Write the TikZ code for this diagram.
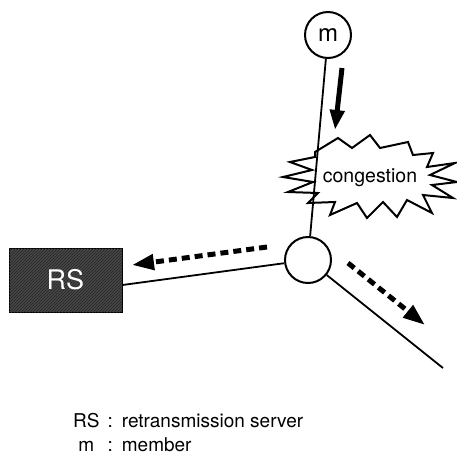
\documentclass[tikz,border=0pt]{standalone}
\usepackage{fontspec}
\setmainfont{TeX Gyre Heros}
\usetikzlibrary{arrows.meta,calc,patterns}
\begin{document}
\begin{tikzpicture}[x=1pt,y=-1pt,
  link/.style={line width=1.8pt},
  router/.style={circle,draw,line width=2pt,inner sep=0pt,minimum size=46pt},
  flow/.style={line width=5pt,-{Triangle[length=20pt,width=14pt]}},
  dflow/.style={line width=5pt,dash pattern=on 8pt off 5pt,-{Triangle[length=22pt,width=15pt]}}]
\useasboundingbox (0,0) rectangle (457,456);

% nodes
\node[router,font=\fontsize{24}{28}\selectfont] (m) at (328,35) {m};
\node[router] (hub) at (308,260) {};
\node[draw=black,line width=1pt,fill=black!72,
      postaction={pattern=north east lines,pattern color=black!85},
      text=white,minimum width=113pt,minimum height=64pt,
      font=\fontsize{27}{30}\selectfont] (rs) at (65.5,280) {RS};
\coordinate (tail) at (443,368);

% congestion burst
\draw[line width=2pt,fill=white,line join=miter,miter limit=20]
  (315,152) -- (338,138) -- (352,148) -- (370,135) -- (380,148) -- (408,142) -- (413,155)
  -- (433,153) -- (427,167) -- (455,163) -- (430,175) -- (457,182) -- (432,185) -- (453,198)
  -- (423,195) -- (432,213) -- (407,200) -- (397,217) -- (383,202) -- (367,218) -- (357,203)
  -- (330,215) -- (335,202) -- (308,203) -- (318,193) -- (288,192) -- (313,182) -- (283,177)
  -- (312,170) -- (290,162) -- (315,157) -- cycle;
\node[font=\fontsize{19.5}{22}\selectfont] (cg) at (370,178) {congestion};

% links
\draw[link] (m) -- (hub);
\draw[link] (rs.-5) -- (hub);
\draw[link] (hub) -- (tail);

% traffic arrows
\coordinate (a1) at (342,68);  \coordinate (a2) at (335,130);
\coordinate (b1) at (267,247); \coordinate (b2) at (132,265);
\coordinate (c1) at (348,263); \coordinate (c2) at (425,325);
\draw[flow] (a1) -- (a2);
\draw[dflow] (b1) -- (b2);
\draw[dflow] (c1) -- (c2);

% legend
\node[anchor=base west,inner sep=0pt,font=\fontsize{19}{24}\selectfont] (key) at (73,427)
  {\begin{tabular}[t]{@{}c@{\hspace{8pt}:\hspace{9pt}}l@{}}RS & retransmission server\\ m & member\end{tabular}};
\end{tikzpicture}
\end{document}
